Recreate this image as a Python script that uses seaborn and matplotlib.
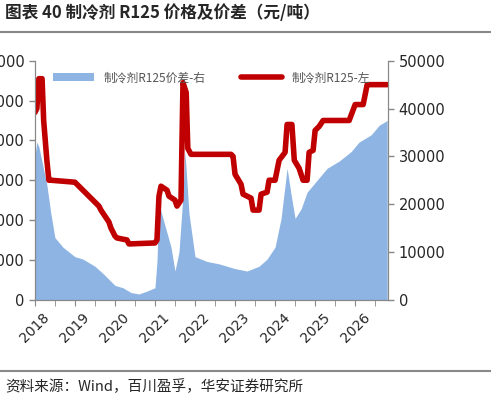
import matplotlib
matplotlib.use("Agg")
import matplotlib.pyplot as plt
import seaborn as sns
import numpy as np
import pandas as pd

sns.set_style("white")
plt.rcParams['font.family'] = ['Noto Sans CJK SC', 'DejaVu Sans']

# line: R125 price (left axis)
line_t = [2018.0, 2018.05, 2018.1, 2018.18, 2018.22, 2018.3, 2018.35, 2018.4, 2019.0, 2019.05, 2019.3, 2019.35, 2019.6, 2019.65,
          2019.85, 2019.9, 2020.0, 2020.05, 2020.3, 2020.35, 2021.0, 2021.05, 2021.1, 2021.15, 2021.3, 2021.35,
          2021.5, 2021.55, 2021.65, 2021.7, 2021.78, 2021.82, 2021.9, 2022.9, 2022.95, 2023.0, 2023.15, 2023.2, 2023.4,
          2023.45, 2023.6, 2023.65, 2023.8, 2023.85, 2024.0, 2024.1, 2024.25, 2024.3, 2024.42, 2024.48, 2024.6, 2024.7,
          2024.8, 2024.85, 2024.95, 2025.0, 2025.1, 2025.2, 2025.85, 2026.0, 2026.2, 2026.3, 2026.8]
line_v = [47000, 48000, 55500, 55500, 45000, 35000, 30000, 30000, 29500, 29000, 26500, 26000, 23500, 22500,
          19500, 18000, 16000, 15500, 15000, 14000, 14250, 15000, 26000, 28500, 27500, 26000,
          25000, 23500, 25000, 54500, 52000, 38000, 36500, 36500, 36000, 31500, 29000, 26500, 25500,
          22500, 22500, 26500, 27000, 30000, 30000, 35000, 37000, 44000, 44000, 35000, 33000, 30000,
          30000, 37000, 37500, 42500, 43500, 45000, 45000, 49000, 49000, 54000, 54000]

# area: R125 spread (right axis)
area_t = [2018.0, 2018.05, 2018.1, 2018.2, 2018.3, 2018.4, 2018.5, 2018.7, 2019.0, 2019.2, 2019.5, 2019.7, 2020.0,
          2020.2, 2020.4, 2020.6, 2020.8, 2021.0, 2021.05, 2021.1, 2021.2, 2021.3, 2021.4, 2021.5, 2021.6, 2021.7,
          2021.75, 2021.85, 2022.0, 2022.3, 2022.6, 2023.0, 2023.3, 2023.6, 2023.8, 2024.0, 2024.15, 2024.3, 2024.4,
          2024.5, 2024.65, 2024.8, 2025.0, 2025.3, 2025.6, 2025.9, 2026.1, 2026.4, 2026.6, 2026.8]
area_v = [30000, 33000, 32000, 28000, 24000, 18000, 13000, 11000, 9000, 8500, 7000, 5500, 3000,
          2500, 1500, 1200, 1800, 2500, 8000, 20000, 17000, 14000, 11000, 6000, 10000, 22000,
          31000, 18000, 9000, 8000, 7500, 6500, 6000, 7000, 8500, 11000, 17000, 27500, 22000,
          17000, 19000, 22500, 24500, 27500, 29000, 31000, 33000, 34500, 36500, 37500]

years = list(range(2018, 2027))

fig = plt.figure(figsize=(4.91, 4.05), dpi=100)
ax = fig.add_axes([0.071, 0.26, 0.72, 0.59])
ax2 = ax.twinx()

ax2.fill_between(area_t, area_v, 0, color='#8DB4E2', lw=0, label='制冷剂R125价差-右')
df = pd.DataFrame({'t': line_t, 'v': line_v})
sns.lineplot(data=df, x='t', y='v', ax=ax, color='#C00000', lw=4, label='制冷剂R125-左', legend=False, sort=False)
ax.set_zorder(ax2.get_zorder() + 1)
ax.patch.set_visible(False)

ax.set_xlim(2018, 2026.83)
ax.set_ylim(0, 60000)
ax2.set_ylim(0, 50000)
ax.set_yticks(np.arange(0, 60001, 10000))
ax2.set_yticks(np.arange(0, 50001, 10000))
ax.set_xticks(years)
ax.set_xticks(np.arange(2018, 2026.9, 0.5), minor=True)
ax.set_xticklabels([str(y) for y in years], rotation=45, fontsize=10, family='DejaVu Sans')
ax.set_xlabel(''); ax.set_ylabel('')
for a in (ax, ax2):
    for s in a.spines.values():
        s.set_color('#888888')
    a.spines['top'].set_visible(False)
    a.tick_params(axis='y', labelsize=10.5, color='#888888', length=4, width=1, direction='out')
ax.tick_params(axis='x', which='both', color='#888888', length=4, bottom=True, direction='out')
ax.tick_params(axis='y', left=True)
ax2.tick_params(axis='y', right=True)
for lab in ax.get_yticklabels() + ax2.get_yticklabels():
    lab.set_family('DejaVu Sans')

h1, l1 = ax2.get_legend_handles_labels()
h2, l2 = ax.get_legend_handles_labels()
ax.legend(h1 + h2, l1 + l2, loc='upper center', ncol=2, frameon=False, fontsize=8.5,
          bbox_to_anchor=(0.5, 1.0), handlelength=3.5, columnspacing=3, labelcolor='#555555')

fig.text(0.01, 0.955, '图表 40 制冷剂 R125 价格及价差（元/吨）', fontsize=12, fontweight='bold')
fig.add_artist(plt.Line2D([0.0, 1.0], [0.92, 0.92], color='#888888', lw=1.5))
fig.add_artist(plt.Line2D([0.0, 1.0], [0.085, 0.085], color='#888888', lw=1.5))
fig.text(0.01, 0.035, '资料来源：Wind，百川盈孚，华安证券研究所', fontsize=10.5)

fig.savefig('out.png', dpi=100)
